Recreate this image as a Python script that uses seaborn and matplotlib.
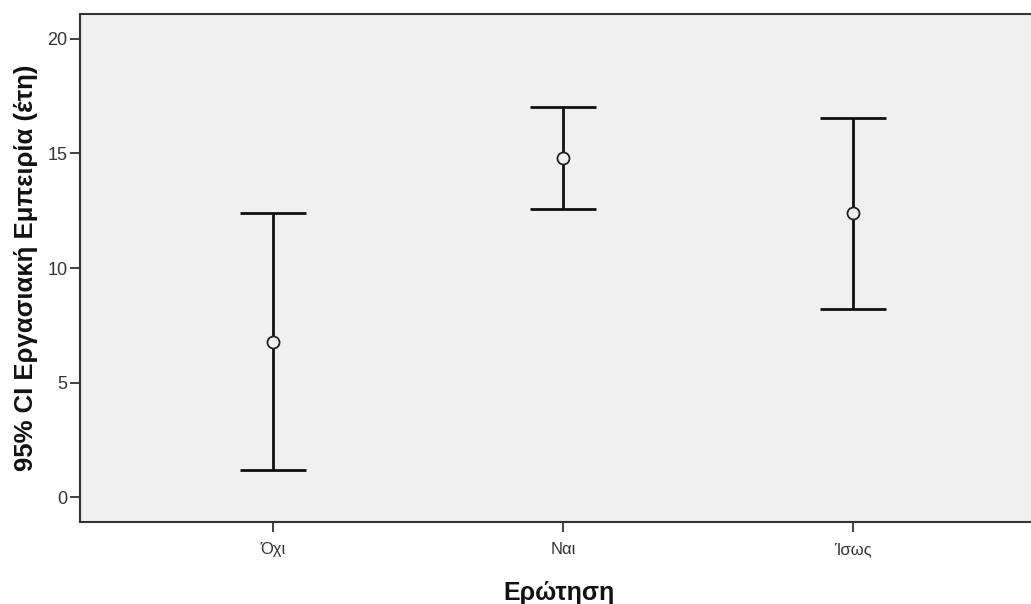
import matplotlib
matplotlib.use("Agg")
import matplotlib.pyplot as plt
import seaborn as sns
import pandas as pd
import numpy as np

# Mean work experience (years) with 95% confidence interval per answer group
categories = ["Όχι", "Ναι", "Ίσως"]
means = [6.78, 14.78, 12.40]
ci_lower = [1.18, 12.56, 8.21]
ci_upper = [12.40, 17.02, 16.56]
y_ticks = [0, 5, 10, 15, 20]

df = pd.DataFrame({"group": categories, "mean": means,
                   "lo": ci_lower, "hi": ci_upper})

sns.set_theme(style="ticks")
plt.rcParams["font.family"] = ["Liberation Sans", "DejaVu Sans"]

fig = plt.figure(figsize=(10.31, 6.04), dpi=100)
ax = fig.add_axes([0.0776, 0.135, 0.93, 0.8425])
ax.set_facecolor("#F0F0F0")

x = np.arange(len(categories))
yerr = np.vstack([df["mean"] - df["lo"], df["hi"] - df["mean"]])
ax.errorbar(x, df["mean"], yerr=yerr, fmt="none", ecolor="#111111",
            elinewidth=2.0, capsize=24, capthick=2.0, zorder=2)

sns.scatterplot(data=df, x="group", y="mean", ax=ax, marker="o", s=75,
                facecolor="#F0F0F0", edgecolor="#222222", linewidth=1.3,
                zorder=3, legend=False)

ax.set_xlim(-0.666, 2.641)
ax.set_ylim(-1.1, 21.1)
ax.set_yticks(y_ticks)
ax.set_xticks(x)
ax.set_xticklabels(categories)

for side in ["left", "bottom", "top"]:
    ax.spines[side].set_color("#333333")
    ax.spines[side].set_linewidth(1.5)
ax.spines["right"].set_visible(False)

ax.tick_params(axis="y", direction="out", length=7, width=1.3,
               color="#333333", labelcolor="#333333", labelsize=13, pad=2)
ax.tick_params(axis="x", direction="out", length=7, width=1.3,
               color="#333333", labelcolor="#333333", labelsize=12, pad=7)

ax.set_xlabel("Ερώτηση", fontsize=18, fontweight="bold", labelpad=17,
              color="#111111")
ax.set_ylabel("95% CI Εργασιακή Εμπειρία (έτη)", fontsize=18.5,
              fontweight="bold", labelpad=7, color="#111111")

fig.savefig("out.png", dpi=100, facecolor="white")
